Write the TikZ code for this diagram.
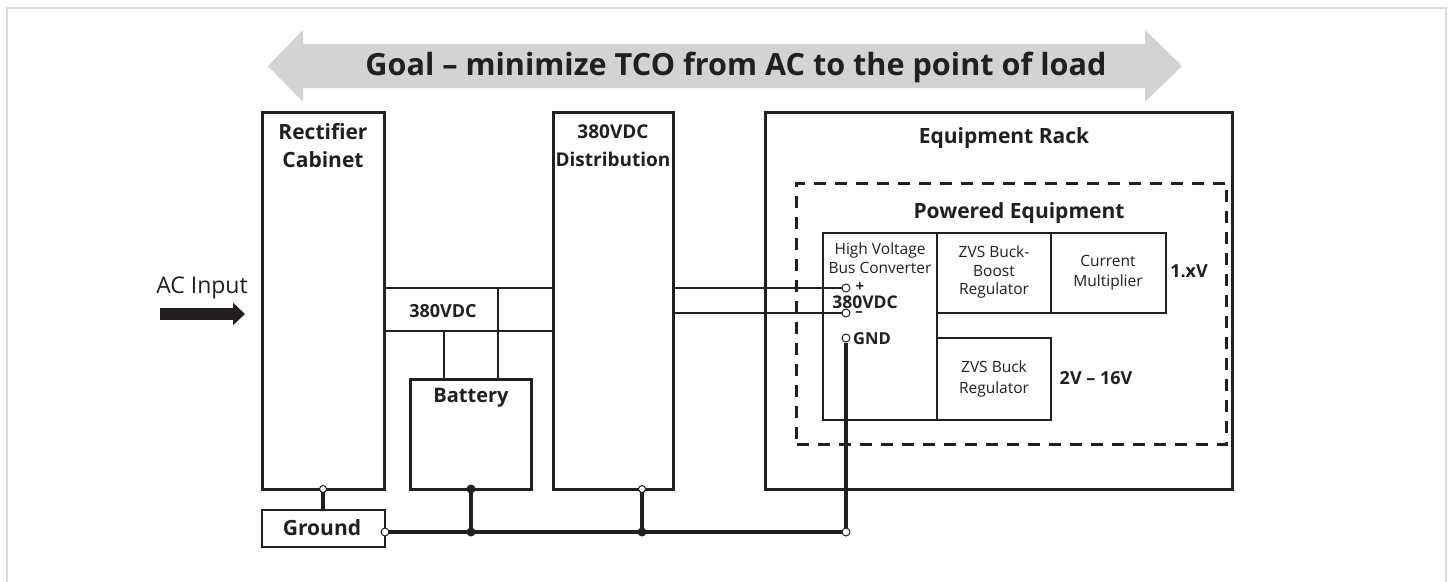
\documentclass[tikz,border=0pt]{standalone}
\usepackage{fontspec}
\setmainfont{Open Sans}
\usetikzlibrary{arrows.meta}
\definecolor{ink}{HTML}{231F20}
\definecolor{arrowgray}{HTML}{D1D3D4}
\definecolor{framecol}{HTML}{D5DDE1}
\tikzset{
  bigbox/.style={draw=ink, line width=3pt, inner sep=0pt},
  smallbox/.style={draw=ink, line width=1.6pt, inner sep=0pt},
  gndbox/.style={draw=ink, line width=2pt, inner sep=0pt},
  wire/.style={draw=ink, line width=1.6pt},
  gwire/.style={draw=ink, line width=4.5pt},
  lbl/.style={text=ink, font=\bfseries\fontsize{21}{28}\selectfont, align=center, inner sep=0pt},
  small/.style={text=ink, font=\fontsize{15.5}{19}\selectfont, align=center, inner sep=0pt},
  opent/.style={circle, draw=ink, fill=white, line width=1pt, minimum size=8pt, inner sep=0pt},
  dott/.style={circle, fill=ink, minimum size=9pt, inner sep=0pt},
}
\begin{document}
\begin{tikzpicture}[x=1pt,y=-1pt]
\useasboundingbox (0,0) rectangle (1450,581);
\fill[white] (0,0) rectangle (1450,581);
\draw[framecol, line width=2pt] (7,620) -- (7,8) -- (1446,8) -- (1446,620);
% goal arrow
\fill[arrowgray] (268,66) -- (303,30) -- (303,44) -- (1145,44) -- (1145,30) -- (1182,66) -- (1145,102) -- (1145,88) -- (303,88) -- (303,102) -- cycle;
\node[text=ink, font=\bfseries\fontsize{30.6}{34}\selectfont, inner sep=0pt] (goal) at (736,67) {Goal – minimize TCO from AC to the point of load};
% main boxes
\node[bigbox, minimum width=122pt, minimum height=377pt] (rect) at (323,300.5) {};
\node[bigbox, minimum width=120pt, minimum height=377pt] (dist) at (613,300.5) {};
\node[bigbox, minimum width=467pt, minimum height=377pt] (rack) at (999,300.5) {};
\node[bigbox, minimum width=121pt, minimum height=110pt] (batt) at (471,434) {};
\node[gndbox, minimum width=123pt, minimum height=37pt] (gnd) at (323.5,528.5) {};
\node[draw=ink, line width=3pt, dash pattern=on 12pt off 9pt, minimum width=430pt, minimum height=261pt, inner sep=0pt] (pe) at (1011.5,313.5) {};
% labels
\node[lbl] (trect) at (323,146) {Rectifier\\Cabinet};
\node[lbl, font=\bfseries\fontsize{19}{28}\selectfont] (tdist) at (613,146) {380VDC\\Distribution};
\node[lbl] (track) at (1004,138) {Equipment Rack};
\node[lbl] (tpe) at (1019,213) {Powered Equipment};
\node[lbl, font=\bfseries\fontsize{20}{24}\selectfont] (tbatt) at (471,398) {Battery};
\node[lbl] (tgnd) at (322,528) {Ground};
\node[lbl, font=\bfseries\fontsize{18}{21}\selectfont] (tbus) at (443,311) {380VDC};
% AC input
\node[text=ink, font=\fontsize{23}{27}\selectfont, inner sep=0pt] (tac) at (202,288) {AC Input};
\coordinate (acs) at (160,314);
\coordinate (ace) at (245,314);
\draw[ink, line width=12pt, -{Triangle[length=12pt, width=22pt]}] (acs) -- (ace);
% 380VDC bus between rectifier and distribution
\coordinate (b1l) at (384,288); \coordinate (b1r) at (553,288);
\coordinate (b2l) at (384,331); \coordinate (b2r) at (553,331);
\draw[wire] (b1l) -- (b1r);
\draw[wire] (b2l) -- (b2r);
\coordinate (v1t) at (498,288); \coordinate (v1b) at (498,379);
\coordinate (v2t) at (444,331); \coordinate (v2b) at (444,379);
\draw[wire] (v1t) -- (v1b);
\draw[wire] (v2t) -- (v2b);
% powered equipment internals
\node[smallbox, minimum width=114pt, minimum height=187pt] (hvbc) at (880,326.5) {};
\node[smallbox, minimum width=114pt, minimum height=80pt] (zbb) at (994,273) {};
\node[smallbox, minimum width=115pt, minimum height=80pt] (cm) at (1108.5,273) {};
\node[smallbox, minimum width=114pt, minimum height=82pt] (zb) at (994,379) {};
\node[small] (thv) at (880,258.5) {High Voltage\\Bus Converter};
\node[small, font=\fontsize{15.5}{18.5}\selectfont] (tzbb) at (994,272) {ZVS Buck-\\Boost\\Regulator};
\node[small, font=\fontsize{15.5}{20}\selectfont] (tcm) at (1108,273) {Current\\Multiplier};
\node[small, font=\fontsize{15.5}{21}\selectfont] (tzb) at (994,378.5) {ZVS Buck\\Regulator};
\node[lbl, font=\bfseries\fontsize{18}{21}\selectfont] (t1x) at (1189,271) {1.xV};
\node[lbl, font=\bfseries\fontsize{18}{21}\selectfont] (t216) at (1096,378) {2V – 16V};
% terminals
\node[opent] (tp) at (846,288) {};
\node[opent] (tm) at (846,313) {};
\node[opent] (tg) at (846,338) {};
\node[text=ink, font=\bfseries\fontsize{15}{17}\selectfont, inner sep=0pt] (tplus) at (860,287) {+};
\node[text=ink, font=\bfseries\fontsize{15}{17}\selectfont, inner sep=0pt] (tminus) at (859,314) {–};
\node[lbl, font=\bfseries\fontsize{17.5}{20}\selectfont] (thvdc) at (865,302) {380VDC};
\node[lbl, font=\bfseries\fontsize{16.5}{19}\selectfont] (tgndl) at (872,339) {GND};
\coordinate (dp) at (673,288);
\coordinate (dm) at (673,313);
\draw[wire] (dp) -- (tp.west);
\draw[wire] (dm) -- (tm.west);
% ground network
\coordinate (rb) at (323,489);
\coordinate (gt) at (323,510);
\coordinate (gr) at (385,532);
\coordinate (bb) at (471,489);
\coordinate (bj) at (471,532);
\coordinate (db) at (642,489);
\coordinate (dj) at (642,532);
\coordinate (ge) at (846,532);
\draw[gwire] (rb) -- (gt);
\draw[gwire] (gr) -- (ge);
\draw[gwire] (bb) -- (bj);
\draw[gwire] (db) -- (dj);
\draw[gwire] (tg.south) -- (ge);
\node[opent, minimum size=7pt] (orb) at (rb) {};
\node[opent] (ogr) at (gr) {};
\node[dott] (dbb) at (bb) {};
\node[dott] (dbj) at (bj) {};
\node[opent, minimum size=7pt] (odb) at (db) {};
\node[dott] (ddj) at (dj) {};
\node[opent] (oge) at (ge) {};
\end{tikzpicture}
\end{document}
